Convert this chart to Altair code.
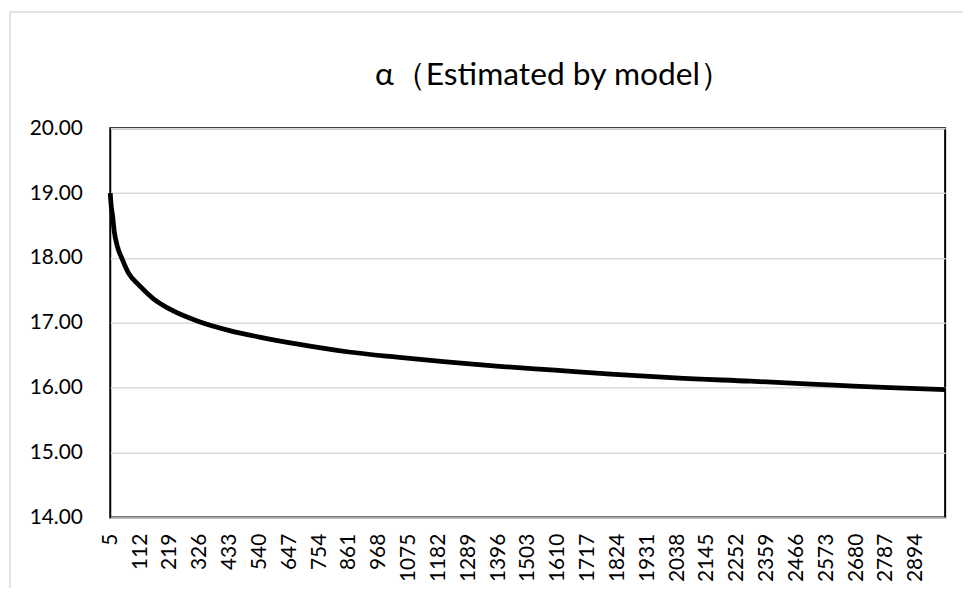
import altair as alt
import pandas as pd

# Values
x_vals = [5, 8, 13, 19, 31, 46, 70, 108, 160, 219, 322, 433, 540, 678, 861,
          1033, 1200, 1400, 1600, 1800, 2030, 2300, 2600, 2800, 3000]
alpha_vals = [19.00, 18.82, 18.66, 18.42, 18.17, 18.00, 17.77, 17.58, 17.37, 17.21,
              17.02, 16.88, 16.78, 16.67, 16.55, 16.47, 16.40, 16.33, 16.27, 16.21,
              16.15, 16.10, 16.04, 16.00, 15.97]
x_tick_labels = [5, 112, 219, 326, 433, 540, 647, 754, 861, 968, 1075, 1182, 1289,
                 1396, 1503, 1610, 1717, 1824, 1931, 2038, 2145, 2252, 2359, 2466,
                 2573, 2680, 2787, 2894]
y_ticks = [14, 15, 16, 17, 18, 19, 20]
title_text = ["α（Estimated by model）"]

df = pd.DataFrame({"x": x_vals, "alpha": alpha_vals})

FONT = "Lato"
W, H = 841, 392

frame = alt.Chart(pd.DataFrame({"d": [0]})).mark_rect(
    fill=None, stroke="#d9d9d9", strokeWidth=1.5, clip=False
).encode(
    x=alt.value(-101), x2=alt.value(W + 120),
    y=alt.value(-117), y2=alt.value(H + 120),
)

title = alt.Chart(pd.DataFrame({"t": title_text})).mark_text(
    font=FONT, fontSize=32, color="black", align="center", baseline="alphabetic"
).encode(
    text="t:N", x=alt.value(W / 2 + 26), y=alt.value(-44)
)

line = alt.Chart(df).mark_line(
    color="black", strokeWidth=4.8, interpolate="monotone"
).encode(
    x=alt.X("x:Q", scale=alt.Scale(domain=[5, 2999], nice=False, zero=False),
            axis=alt.Axis(values=x_tick_labels, format="d", labelAngle=-90, title=None,
                          grid=False, domain=False, ticks=False,
                          labelFontSize=21, labelFont=FONT, labelColor="black",
                          labelPadding=16, labelFlush=False, labelOverlap=False)),
    y=alt.Y("alpha:Q", scale=alt.Scale(domain=[14, 20], nice=False, zero=False),
            axis=alt.Axis(values=y_ticks, format=".2f", title=None,
                          grid=True, gridColor="#d9d9d9", gridWidth=1.5,
                          domain=False, ticks=False,
                          labelFontSize=21, labelFont=FONT, labelColor="black",
                          labelPadding=28)),
)

chart = alt.layer(frame, line, title).properties(
    width=W, height=H,
    autosize=alt.AutoSizeParams(type="none"),
    padding={"left": 103, "top": 119, "right": 18, "bottom": 69},
).configure_view(stroke="black", strokeWidth=2)

chart.save("out.html", embed_options={"renderer": "svg", "actions": False})
